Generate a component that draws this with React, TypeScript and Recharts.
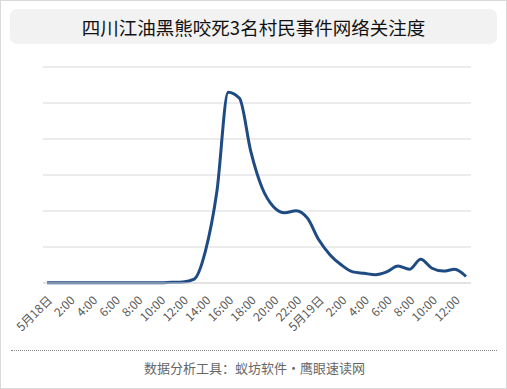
import { LineChart, Line, XAxis, YAxis, CartesianGrid } from "recharts";

// hourly points, 5/18 0:00 -> 5/19 13:00
const hours = [
  "5月18日", "1:00", "2:00", "3:00", "4:00", "5:00", "6:00", "7:00", "8:00", "9:00",
  "10:00", "11:00", "12:00", "13:00", "14:00", "15:00", "16:00", "17:00", "18:00", "19:00",
  "20:00", "21:00", "22:00", "23:00", "5月19日", "1:00", "2:00", "3:00", "4:00", "5:00",
  "6:00", "7:00", "8:00", "9:00", "10:00", "11:00", "12:00", "13:00",
];

const heat = [
  0.1, 0.1, 0.1, 0.1, 0.1, 0.1, 0.1, 0.1, 0.1, 0.1,
  0.1, 0.2, 0.3, 1.1, 9, 25.4, 53, 51.3, 36.5, 26.4,
  21.2, 19.5, 20.1, 18, 12, 7.8, 5, 3.1, 2.7, 2.3,
  3.1, 4.7, 3.8, 6.6, 4.1, 3.3, 3.8, 1.8,
];

const yTicks = [0, 10, 20, 30, 40, 50, 60];

const data = hours.map((h, i) => ({ idx: i, label: h, value: heat[i] }));

const FONT = '"Noto Sans CJK SC", "Noto Sans", sans-serif';

function HourTick(props: any) {
  const { x, y, payload } = props;
  const label = hours[payload.value];
  return (
    <g transform={`translate(${x + 3},${y + 7})`}>
      <text
        x={0}
        y={0}
        dy="0.35em"
        textAnchor="end"
        transform="rotate(-45)"
        fill="#595959"
        fontSize={12}
        fontFamily={FONT}
      >
        {label}
      </text>
    </g>
  );
}

export default function App() {
  return (
    <div
      style={{
        position: "absolute",
        left: 0,
        top: 0,
        width: 507,
        height: 389,
        boxSizing: "border-box",
        border: "1px solid #d9d9d9",
        background: "#fff",
        fontFamily: FONT,
      }}
    >
      <div
        style={{
          position: "absolute",
          left: 9,
          top: 8,
          width: 487,
          height: 35,
          background: "#f2f2f2",
          borderRadius: 7,
          display: "flex",
          alignItems: "center",
          justifyContent: "center",
          fontSize: 18.5,
          color: "#111",
        }}
      >
        四川江油黑熊咬死3名村民事件网络关注度
      </div>

      <div style={{ position: "absolute", left: -1, top: -1 }}>
        <LineChart
          width={507}
          height={389}
          data={data}
          margin={{ top: 67, left: 43, right: 36, bottom: 56 }}
        >
          <CartesianGrid vertical={false} stroke="#d9d9d9" />
          <XAxis
            dataKey="idx"
            type="category"
            interval={1}
            tick={<HourTick />}
            tickLine={false}
            axisLine={{ stroke: "#d9d9d9" }}
            height={50}
            padding={{ left: 4, right: 5 }}
          />
          <YAxis hide width={0} domain={[0, 60]} ticks={yTicks} />
          <Line
            type="monotone"
            dataKey="value"
            stroke="#1f4b84"
            strokeWidth={3}
            dot={false}
            isAnimationActive={false}
          />
        </LineChart>
      </div>

      <div
        style={{
          position: "absolute",
          left: 10,
          top: 349,
          width: 486,
          borderTop: "1px dotted #888",
        }}
      />
      <div
        style={{
          position: "absolute",
          left: 0,
          top: 357,
          width: 507,
          textAlign: "center",
          fontSize: 13,
          color: "#666",
        }}
      >
        数据分析工具：蚁坊软件·鹰眼速读网
      </div>
    </div>
  );
}
